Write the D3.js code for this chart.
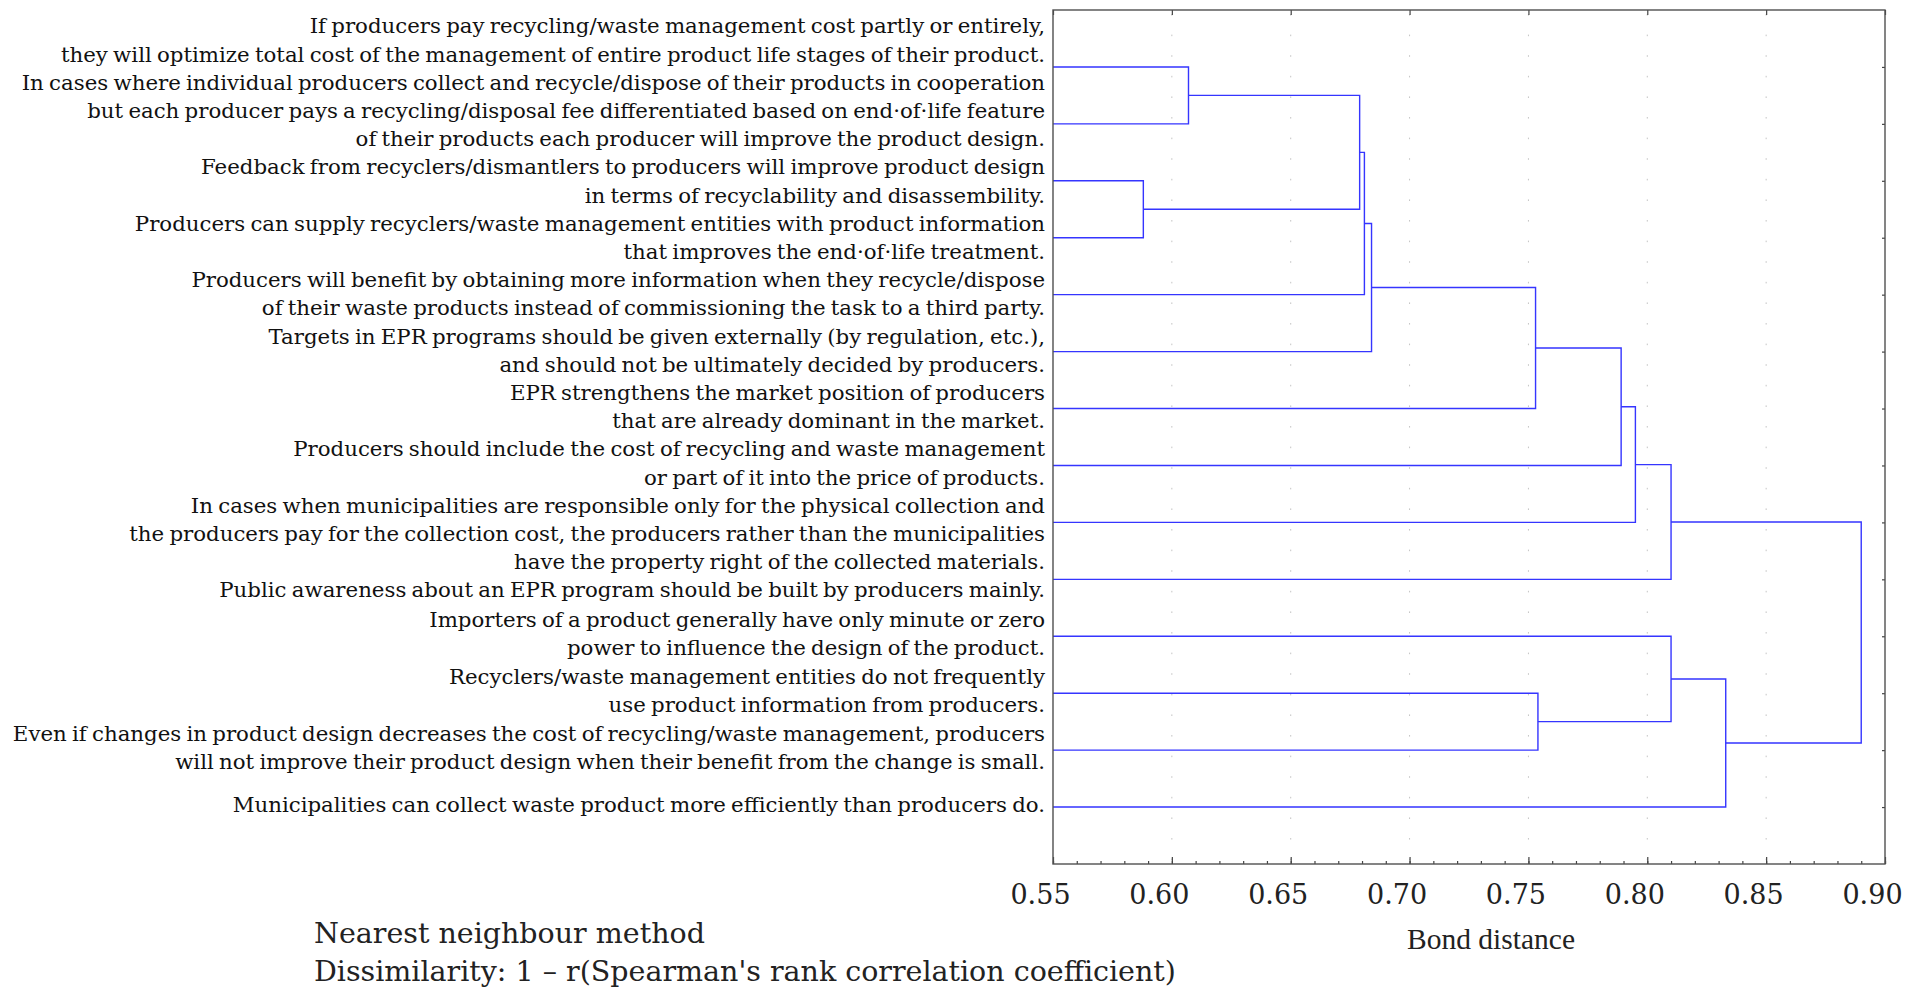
<!DOCTYPE html>
<html>
<head>
<meta charset="utf-8">
<script src="https://cdn.jsdelivr.net/npm/d3@7"></script>
<style>
  body { margin: 0; background: #fff; }
  svg { display: block; background: #fff; }
  .label { font-family: "DejaVu Serif", serif; font-size: 21.3px; fill: #111; word-spacing: -1.5px; }
  .axis text { font-family: "DejaVu Serif", serif; font-size: 27px; fill: #222; }
  .note { font-family: "DejaVu Serif", serif; font-size: 28.5px; fill: #222; }
  .title { font-family: "Liberation Serif", serif; font-size: 29.5px; fill: #222; }
</style>
</head>
<body>
<svg id="chart" width="1907" height="989"></svg>
<script>
// statements, top to bottom in dendrogram order
const items = [
  ["If producers pay recycling/waste management cost partly or entirely,",
   "they will optimize total cost of the management of entire product life stages of their product."],
  ["In cases where individual producers collect and recycle/dispose of their products in cooperation",
   "but each producer pays a recycling/disposal fee differentiated based on end·of·life feature",
   "of their products each producer will improve the product design."],
  ["Feedback from recyclers/dismantlers to producers will improve product design",
   "in terms of recyclability and disassembility."],
  ["Producers can supply recyclers/waste management entities with product information",
   "that improves the end·of·life treatment."],
  ["Producers will benefit by obtaining more information when they recycle/dispose",
   "of their waste products instead of commissioning the task to a third party."],
  ["Targets in EPR programs should be given externally (by regulation, etc.),",
   "and should not be ultimately decided by producers."],
  ["EPR strengthens the market position of producers",
   "that are already dominant in the market."],
  ["Producers should include the cost of recycling and waste management",
   "or part of it into the price of products."],
  ["In cases when municipalities are responsible only for the physical collection and",
   "the producers pay for the collection cost, the producers rather than the municipalities",
   "have the property right of the collected materials."],
  ["Public awareness about an EPR program should be built by producers mainly."],
  ["Importers of a product generally have only minute or zero",
   "power to influence the design of the product."],
  ["Recyclers/waste management entities do not frequently",
   "use product information from producers."],
  ["Even if changes in product design decreases the cost of recycling/waste management, producers",
   "will not improve their product design when their benefit from the change is small."],
  ["Municipalities can collect waste product more efficiently than producers do."]
]

// linkage: [a, b, distance]; ids < 14 are leaves, ids >= 14 are earlier merges
const merges = [
  [2, 3, 0.588],
  [0, 1, 0.607],
  [15, 14, 0.679],
  [16, 4, 0.681],
  [17, 5, 0.684],
  [18, 6, 0.753],
  [11, 12, 0.754],
  [19, 7, 0.789],
  [21, 8, 0.795],
  [22, 9, 0.810],
  [10, 20, 0.810],
  [24, 13, 0.833],
  [23, 25, 0.890]
]

const xTicks = [0.55, 0.60, 0.65, 0.70, 0.75, 0.80, 0.85, 0.90]
const xTickLabels = ["0.55", "0.60", "0.65", "0.70", "0.75", "0.80", "0.85", "0.90"]
const xDomain = [0.55, 0.90]
const xTitle = "Bond distance"
const notes = ["Nearest neighbour method", "Dissimilarity: 1 \u2013 r(Spearman's rank correlation coefficient)"]

const box = { left: 1053, right: 1885, top: 10, bottom: 864 }
const lineH = 28.2
const labelRight = 1045

const svg = d3.select("#chart")

const x = d3.scaleLinear().domain(xDomain).range([box.left, box.right])
const y = d3.scaleLinear().domain([0, items.length + 1]).range([box.top, box.bottom])

// grid
svg.append("g")
  .selectAll("line")
  .data(xTicks.slice(1, -1))
  .enter().append("line")
  .attr("x1", d => x(d)).attr("x2", d => x(d))
  .attr("y1", box.top + 4).attr("y2", box.bottom)
  .attr("stroke", "#c4c4c4")
  .attr("stroke-width", 1)
  .attr("stroke-dasharray", "1.6,19")

// node positions
const nodes = items.map((d, i) => ({ y: y(i + 1), h: xDomain[0] }))
merges.forEach(([a, b, h]) => {
  nodes.push({ a, b, h, y: (nodes[a].y + nodes[b].y) / 2 })
})

svg.append("g")
  .selectAll("path")
  .data(nodes.filter(n => n.a !== undefined))
  .enter().append("path")
  .attr("d", n => {
    const A = nodes[n.a], B = nodes[n.b]
    return `M${x(A.h)},${A.y}H${x(n.h)}V${B.y}H${x(B.h)}`
  })
  .attr("fill", "none")
  .attr("stroke", "#3535ff")
  .attr("stroke-width", 1.4)

// axes
const gBottom = svg.append("g").attr("class", "axis")
  .attr("transform", `translate(0,${box.bottom})`)
gBottom.call(d3.axisBottom(x).ticks(35).tickSize(-3).tickFormat(""))
gBottom.append("g").call(d3.axisBottom(x).tickValues(xTicks).tickSize(-7).tickPadding(21)
  .tickFormat((d, i) => xTickLabels[i]))
gBottom.selectAll("text").attr("dx", -13)

svg.append("g").attr("class", "axis")
  .attr("transform", `translate(0,${box.top})`)
  .call(d3.axisTop(x).tickValues(xTicks).tickSize(-5).tickFormat(""))

svg.append("g").attr("class", "axis")
  .attr("transform", `translate(${box.right},0)`)
  .call(d3.axisRight(y).tickValues(d3.range(1, items.length + 1)).tickSize(-3).tickFormat(""))

svg.selectAll(".axis path.domain").remove()
svg.selectAll(".axis line").attr("stroke", "#444").attr("stroke-width", 1.2)

svg.append("rect")
  .attr("x", box.left).attr("y", box.top)
  .attr("width", box.right - box.left).attr("height", box.bottom - box.top)
  .attr("fill", "none").attr("stroke", "#505050").attr("stroke-width", 1.4)

// labels: centre each block on its leaf, then spread blocks so lines don't collide
function spread(targets, seps) {
  const S = [0]
  seps.forEach((s, i) => S.push(S[i] + s))
  const blocks = []
  targets.forEach((t, i) => {
    blocks.push({ sum: t - S[i], n: 1 })
    while (blocks.length > 1) {
      const b = blocks[blocks.length - 1], a = blocks[blocks.length - 2]
      if (a.sum / a.n <= b.sum / b.n) break
      a.sum += b.sum; a.n += b.n
      blocks.pop()
    }
  })
  const out = []
  blocks.forEach(b => { for (let k = 0; k < b.n; k++) out.push(b.sum / b.n) })
  return out.map((u, i) => u + S[i])
}

const seps = items.slice(1).map((d, i) => lineH * (items[i].length + d.length) / 2)
const centers = spread(items.map((d, i) => y(i + 1) + 5), seps)

const labelLines = []
items.forEach((lines, i) => {
  lines.forEach((t, j) => {
    labelLines.push({ t, y: centers[i] + (j - (lines.length - 1) / 2) * lineH })
  })
})

svg.append("g")
  .selectAll("text")
  .data(labelLines)
  .enter().append("text")
  .attr("class", "label")
  .attr("x", labelRight)
  .attr("y", d => d.y)
  .attr("text-anchor", "end")
  .text(d => d.t)

svg.append("text")
  .attr("class", "title")
  .attr("x", 1491).attr("y", 949)
  .attr("text-anchor", "middle")
  .text(xTitle)

svg.append("g")
  .selectAll("text")
  .data(notes)
  .enter().append("text")
  .attr("class", "note")
  .attr("x", 314)
  .attr("y", (d, i) => 943 + i * 38)
  .text(d => d)
</script>
</body>
</html>
